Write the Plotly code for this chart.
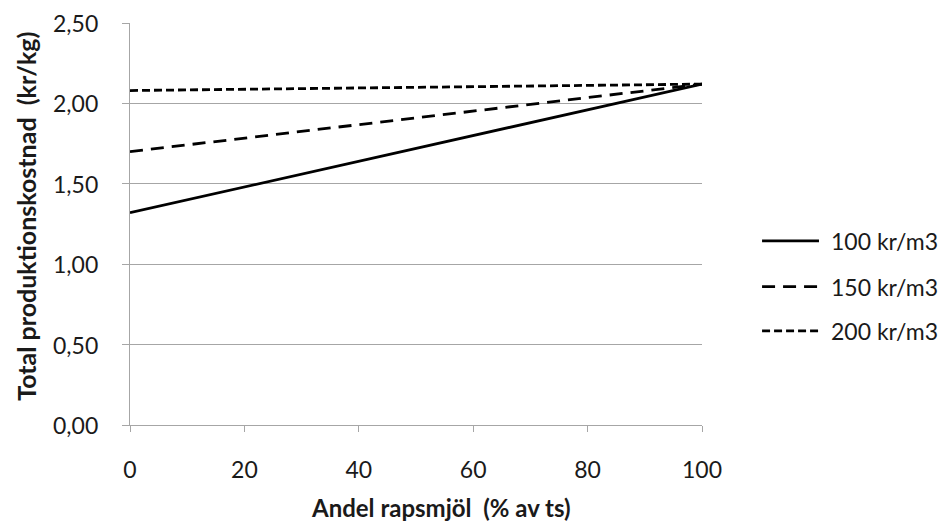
import plotly.graph_objects as go

# Share of rapeseed meal in the feed (% of dry matter)
andel = [0, 100]

# Total production cost (kr/kg) for three feed prices
kostnad_100 = [1.32, 2.12]
kostnad_150 = [1.70, 2.12]
kostnad_200 = [2.08, 2.12]

namn = ["100 kr/m3", "150 kr/m3", "200 kr/m3"]
kostnader = [kostnad_100, kostnad_150, kostnad_200]
streck = ["solid", "13px,8px", "8px,4px"]

x_ticks = [0, 20, 40, 60, 80, 100]
y_ticks = [0, 0.5, 1.0, 1.5, 2.0, 2.5]
y_labels = [f"{v:.2f}".replace(".", ",") for v in y_ticks]

x_titel = "Andel rapsmjöl  (% av ts)"
y_titel = "Total produktionskostnad  (kr/kg)"

FONT = "Lato"
TEXT = "#1a1a1a"
GRAY = "#a6a6a6"
LW = 2.8

fig = go.Figure()
for n, v, d in zip(namn, kostnader, streck):
    fig.add_trace(go.Scatter(
        x=andel, y=v, mode="lines", name=n, showlegend=False,
        line=dict(color="black", width=LW, dash=d),
    ))

# Value labels of the y axis, set a little further out from the axis line
for v, lab in zip(y_ticks, y_labels):
    fig.add_annotation(xref="paper", yref="y", x=-0.052, y=v,
                       xanchor="right", yanchor="middle", showarrow=False,
                       text=lab, font=dict(family=FONT, size=23, color=TEXT))

# Legend drawn at the right of the plot: line sample + label per series
legend_y = [0.458, 0.344, 0.234]
for n, d, ly in zip(namn, streck, legend_y):
    fig.add_shape(type="line", xref="paper", yref="paper",
                  x0=1.105, x1=1.2045, y0=ly, y1=ly,
                  line=dict(color="black", width=LW, dash=d))
    fig.add_annotation(xref="paper", yref="paper", x=1.222, y=ly,
                       xanchor="left", yanchor="middle", showarrow=False,
                       text=n, font=dict(family=FONT, size=23, color=TEXT))

# Axis titles
fig.add_annotation(xref="paper", yref="paper", x=0.544, y=-0.205,
                   xanchor="center", yanchor="middle", showarrow=False,
                   text=f"<b>{x_titel}</b>", font=dict(family=FONT, size=24, color=TEXT))
fig.add_annotation(xref="paper", yref="paper", x=-0.182, y=0.52,
                   xanchor="center", yanchor="middle", showarrow=False, textangle=-90,
                   text=f"<b>{y_titel}</b>", font=dict(family=FONT, size=25, color=TEXT))

fig.update_layout(
    width=946, height=530,
    margin=dict(l=130, r=244, t=23, b=105),
    paper_bgcolor="white", plot_bgcolor="white",
    font=dict(family=FONT, size=23, color=TEXT),
    showlegend=False,
    xaxis=dict(
        range=[0, 100], tickvals=x_ticks, showgrid=False, zeroline=False,
        showline=True, linecolor=GRAY, linewidth=1,
        ticks="outside", ticklen=6, tickcolor=GRAY,
        tickfont=dict(size=23), ticklabelstandoff=18,
    ),
    yaxis=dict(
        range=[0, 2.5], tickvals=y_ticks, showticklabels=False,
        showgrid=True, gridcolor=GRAY, gridwidth=1, zeroline=False,
        showline=True, linecolor=GRAY, linewidth=1,
        ticks="outside", ticklen=7, tickcolor=GRAY,
    ),
)

fig.write_html("out.html")
